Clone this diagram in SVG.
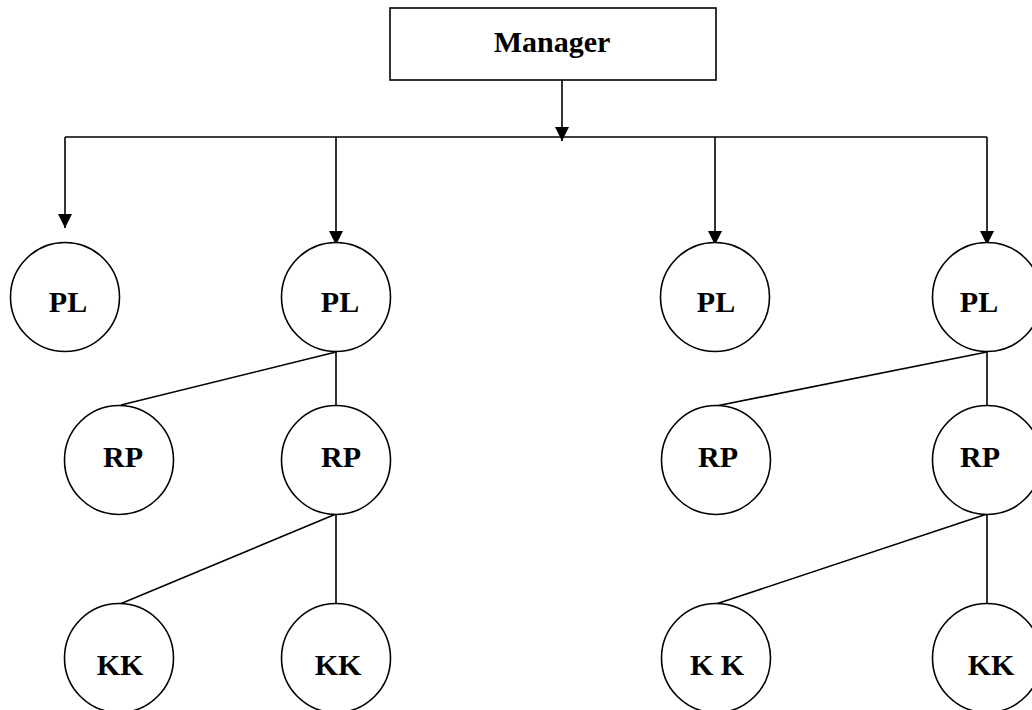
<svg xmlns="http://www.w3.org/2000/svg" width="1032" height="710" viewBox="0 0 1032 710">
<style>
.bg{fill:#fff}
.box{fill:#fff;stroke:#000;stroke-width:1.6}
.node{fill:#fff;stroke:#000;stroke-width:1.6}
.lbl{font-family:"Liberation Serif","Times New Roman",serif;font-weight:bold;font-size:30px;fill:#000;text-anchor:middle}
.conn{stroke:#000;stroke-width:1.6;fill:none}
</style>
<defs>
<marker id="ah" markerUnits="userSpaceOnUse" markerWidth="15" markerHeight="14" refX="14" refY="7" orient="auto" viewBox="0 0 15 14">
<path d="M0,0 L14,7 L0,14 z" fill="#000"/>
</marker>
</defs>
<rect class="bg" x="0" y="0" width="1032" height="710"/>
<g id="connectors">
<line class="conn" x1="562" y1="80" x2="562" y2="141" marker-end="url(#ah)"/>
<line class="conn" x1="65" y1="137" x2="987" y2="137"/>
<line class="conn" x1="65" y1="137" x2="65" y2="228" marker-end="url(#ah)"/>
<line class="conn" x1="336" y1="137" x2="336" y2="245" marker-end="url(#ah)"/>
<line class="conn" x1="715" y1="137" x2="715" y2="245" marker-end="url(#ah)"/>
<line class="conn" x1="987" y1="137" x2="987" y2="245" marker-end="url(#ah)"/>
<line class="conn" x1="336" y1="352" x2="121" y2="405"/>
<line class="conn" x1="336" y1="352" x2="336" y2="406"/>
<line class="conn" x1="336" y1="514" x2="120" y2="604"/>
<line class="conn" x1="336" y1="514" x2="336" y2="604"/>
<line class="conn" x1="987" y1="352" x2="716" y2="406"/>
<line class="conn" x1="987" y1="352" x2="987" y2="406"/>
<line class="conn" x1="987" y1="514" x2="716" y2="604"/>
<line class="conn" x1="987" y1="514" x2="987" y2="604"/>
</g>
<g id="manager">
<rect class="box" x="390" y="8" width="326" height="72"/>
<text class="lbl" x="552" y="52">Manager</text>
</g>
<g id="pl1"><circle class="node" cx="65" cy="297" r="54.5"/><text class="lbl" x="68" y="312">PL</text></g>
<g id="pl2"><circle class="node" cx="336" cy="297" r="54.5"/><text class="lbl" x="340" y="312">PL</text></g>
<g id="pl3"><circle class="node" cx="715" cy="297" r="54.5"/><text class="lbl" x="716" y="312">PL</text></g>
<g id="pl4"><circle class="node" cx="987" cy="297" r="54.5"/><text class="lbl" x="979" y="312">PL</text></g>
<g id="rp1"><circle class="node" cx="119" cy="460" r="54.5"/><text class="lbl" x="123" y="467">RP</text></g>
<g id="rp2"><circle class="node" cx="336" cy="460" r="54.5"/><text class="lbl" x="341" y="467">RP</text></g>
<g id="rp3"><circle class="node" cx="716" cy="460" r="54.5"/><text class="lbl" x="718" y="467">RP</text></g>
<g id="rp4"><circle class="node" cx="987" cy="460" r="54.5"/><text class="lbl" x="980" y="467">RP</text></g>
<g id="kk1"><circle class="node" cx="119" cy="658" r="54.5"/><text class="lbl" x="120" y="675">KK</text></g>
<g id="kk2"><circle class="node" cx="336" cy="658" r="54.5"/><text class="lbl" x="338" y="675">KK</text></g>
<g id="kk3"><circle class="node" cx="716" cy="658" r="54.5"/><text class="lbl" x="717" y="675">K K</text></g>
<g id="kk4"><circle class="node" cx="987" cy="658" r="54.5"/><text class="lbl" x="991" y="675">KK</text></g>
</svg>
